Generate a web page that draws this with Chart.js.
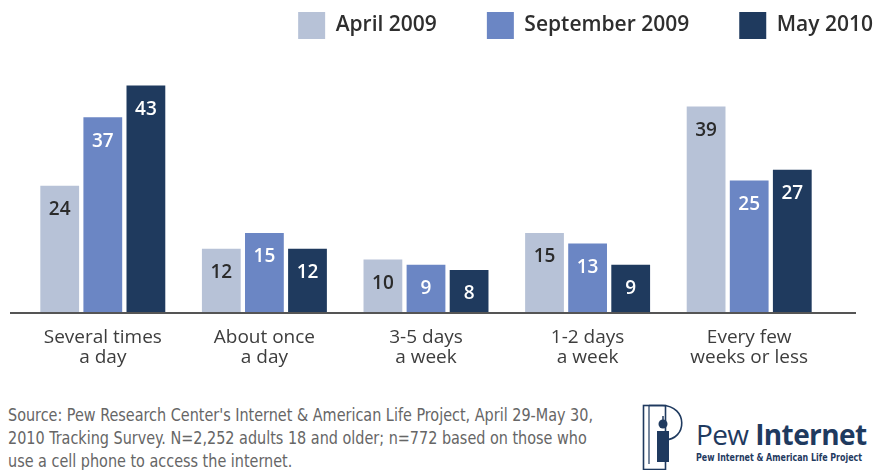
<!DOCTYPE html>
<html>
<head>
<meta charset="utf-8">
<script src="https://cdn.jsdelivr.net/npm/chart.js@4.4.0/dist/chart.umd.min.js"></script>
<style>
  body { margin: 0; background: #fff; }
  #wrap { position: relative; width: 878px; height: 470px; overflow: hidden; }
  #chartBox { position: absolute; left: 0; top: 0; width: 878px; height: 384px; }
  #source { position: absolute; left: 8px; top: 404px; font-family: "DejaVu Sans Condensed", "Liberation Sans", sans-serif; font-size: 17.5px; line-height: 23px; color: #666; white-space: nowrap; transform-origin: 0 0; }
  #source span { display: inline-block; }
  #logo { position: absolute; left: 640px; top: 402px; width: 238px; height: 68px; }
  #logo svg { position: absolute; left: 0; top: 0; }
  #logo .name { position: absolute; left: 56px; top: 18px; font-family: "Open Sans", sans-serif; font-size: 28px; line-height: 28px; color: #1f3a5f; letter-spacing: -0.6px; white-space: nowrap; }
  #logo .name b { font-weight: 700; }
  #logo .sub { position: absolute; left: 56px; top: 50px; font-family: "DejaVu Sans Condensed", sans-serif; font-weight: 700; font-size: 10px; line-height: 11px; color: #1f3a5f; white-space: nowrap; transform-origin: 0 0; }
</style>
</head>
<body>
<div id="wrap">
  <div id="chartBox"><canvas id="freqChart"></canvas></div>
  <div id="source"><span id="srcLine1">Source: Pew Research Center's Internet &amp; American Life Project, April 29-May 30,</span><br><span>2010 Tracking Survey. N=2,252 adults 18 and older; n=772 based on those who</span><br><span>use a cell phone to access the internet.</span></div>
  <div id="logo">
    <svg width="50" height="68" viewBox="0 0 50 68">
      <rect x="3.5" y="3.5" width="22" height="64" fill="none" stroke="#1f3a5f" stroke-width="1.6"/>
      <path d="M9 3.5 L22 3.5 C48 3.5 48 38 24 38" fill="none" stroke="#1f3a5f" stroke-width="1.6"/>
      <line x1="9" y1="3.5" x2="9" y2="62" stroke="#1f3a5f" stroke-width="1.2"/>
      <line x1="23" y1="14" x2="23" y2="18" stroke="#1f3a5f" stroke-width="1.5"/>
      <circle cx="23" cy="22" r="4.5" fill="#1f3a5f"/>
      <path d="M17 29 L29 29 L29 60 L17 60 Z" fill="#1f3a5f"/>
    </svg>
    <div class="name">Pew <b>Internet</b></div>
    <div class="sub" id="logoSub">Pew Internet &amp; American Life Project</div>
  </div>
</div>
<script>
// categorias e séries
const categories = [
  ['Several times', 'a day'],
  ['About once', 'a day'],
  ['3-5 days', 'a week'],
  ['1-2 days', 'a week'],
  ['Every few', 'weeks or less']
];
const seriesNames = ['April 2009', 'September 2009', 'May 2010'];
const april2009 = [24, 12, 10, 15, 39];
const september2009 = [37, 15, 9, 13, 25];
const may2010 = [43, 12, 8, 9, 27];

const barColors = ['#b7c2d7', '#6b86c4', '#1f3a5e'];
const labelColors = ['#2b2b2b', '#ffffff', '#ffffff'];

// rótulos de valor dentro das barras
const valueLabels = {
  id: 'valueLabels',
  afterDatasetsDraw(chart) {
    const ctx = chart.ctx;
    ctx.save();
    ctx.font = '600 19px "Open Sans", sans-serif';
    ctx.textAlign = 'center';
    ctx.textBaseline = 'middle';
    chart.data.datasets.forEach((ds, i) => {
      const meta = chart.getDatasetMeta(i);
      meta.data.forEach((bar, j) => {
        ctx.fillStyle = labelColors[i];
        ctx.fillText(ds.data[j], bar.x, bar.y + 24);
      });
    });
    ctx.restore();
  }
};

// linha de base mais larga que a área do gráfico
const baseLine = {
  id: 'baseLine',
  afterDatasetsDraw(chart) {
    const ctx = chart.ctx;
    const y = chart.scales.y.getPixelForValue(0);
    ctx.save();
    ctx.strokeStyle = '#555';
    ctx.lineWidth = 2;
    ctx.beginPath();
    ctx.moveTo(10, y + 1);
    ctx.lineTo(856, y + 1);
    ctx.stroke();
    ctx.restore();
  }
};

// legenda: altura fixa e alinhada à direita do canvas
const LEGEND_PAD = 50;
const legendPlace = {
  id: 'legendPlace',
  beforeInit(chart) {
    const fit = chart.legend.fit;
    chart.legend.fit = function () {
      fit.bind(chart.legend)();
      this.height = 71;
    };
  },
  afterLayout(chart) {
    const lg = chart.legend;
    lg.left = 0;
    lg.right = 873 + LEGEND_PAD;
    lg.top = 12 - LEGEND_PAD;
  }
};

const datasets = [april2009, september2009, may2010].map((d, i) => ({
  label: seriesNames[i],
  data: d,
  backgroundColor: barColors[i],
  borderWidth: 0,
  categoryPercentage: 0.8,
  barPercentage: 0.9
}));

new Chart(document.getElementById('freqChart'), {
  type: 'bar',
  data: { labels: categories, datasets: datasets },
  options: {
    responsive: true,
    maintainAspectRatio: false,
    animation: false,
    layout: { padding: { left: 22, right: 48, top: 4, bottom: 0 } },
    plugins: {
      legend: {
        position: 'top',
        align: 'end',
        labels: {
          boxWidth: 27,
          boxHeight: 27,
          padding: LEGEND_PAD,
          color: '#2e2e2e',
          font: { family: '"Open Sans", sans-serif', size: 21, weight: '600' }
        }
      },
      tooltip: { enabled: false }
    },
    scales: {
      x: {
        grid: { display: false, drawTicks: false },
        border: { display: false },
        ticks: {
          padding: 16,
          color: '#3d3d3d',
          font: { family: '"Open Sans", sans-serif', size: 19, lineHeight: 1.05 }
        }
      },
      y: {
        display: false,
        min: 0,
        max: 45
      }
    }
  },
  plugins: [valueLabels, baseLine, legendPlace]
});

// ajusta largura dos textos condensados do rodapé
function fitWidth(el, measureEl, target) {
  const w = measureEl.getBoundingClientRect().width;
  if (w > 0) el.style.transform = 'scaleX(' + (target / w) + ')';
}
fitWidth(document.getElementById('source'), document.getElementById('srcLine1'), 585);
fitWidth(document.getElementById('logoSub'), document.getElementById('logoSub'), 166);
</script>
</body>
</html>
